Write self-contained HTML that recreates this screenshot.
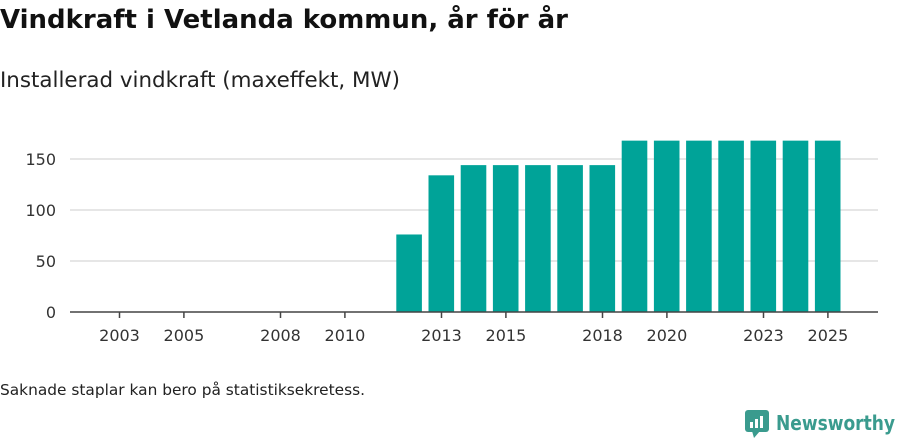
<!DOCTYPE html>
<html><head><meta charset="utf-8"><style>
body{margin:0;width:900px;height:439px;background:#fff;font-family:"Liberation Sans","DejaVu Sans",sans-serif;overflow:hidden;position:relative}
</style></head><body>
<svg width="900" height="439" style="position:absolute;left:0;top:0">
<text x="0" y="28" font-size="26" font-weight="bold" fill="#111" font-family="DejaVu Sans, sans-serif" textLength="568" lengthAdjust="spacingAndGlyphs">Vindkraft i Vetlanda kommun, år för år</text>
<text x="0" y="87" font-size="21" fill="#222" font-family="DejaVu Sans, sans-serif" textLength="400" lengthAdjust="spacingAndGlyphs">Installerad vindkraft (maxeffekt, MW)</text>
<g id="grid"></g><g id="bars"></g><g id="axis"></g>
<text x="0" y="395" font-size="15" fill="#222" font-family="DejaVu Sans, sans-serif" textLength="365" lengthAdjust="spacingAndGlyphs">Saknade staplar kan bero på statistiksekretess.</text>
<g>
<rect x="745" y="410" width="24" height="22" rx="3" fill="#3a9b8e"/>
<polygon points="752,431 760,431 754,438" fill="#3a9b8e"/>
<rect x="750" y="422" width="3" height="6" fill="#fff"/><rect x="755" y="419" width="3" height="9" fill="#fff"/><rect x="760" y="416" width="3" height="12" fill="#fff"/>
<text x="776" y="430" font-size="20" font-weight="bold" fill="#3a9b8e" font-family="DejaVu Sans, sans-serif" textLength="119" lengthAdjust="spacingAndGlyphs">Newsworthy</text>
</g>
</svg>
<script>
const years=[2012,2013,2014,2015,2016,2017,2018,2019,2020,2021,2022,2023,2024,2025];
const values=[76,134,144,144,144,144,144,168,168,168,168,168,168,168];
const yTicks=[0,50,100,150];
const xTicks=[2003,2005,2008,2010,2013,2015,2018,2020,2023,2025];
const NS="http://www.w3.org/2000/svg";
const x=y=>119.5+(y-2003)*32.2;
const yS=v=>312-v*1.02;
function mk(t,a,p){const e=document.createElementNS(NS,t);for(const k in a)e.setAttribute(k,a[k]);p.appendChild(e);return e;}
const grid=document.getElementById('grid'),bars=document.getElementById('bars'),axis=document.getElementById('axis');
yTicks.forEach(v=>{
 if(v>0){const l=mk('line',{x1:70,x2:878,y1:yS(v),y2:yS(v),stroke:'#ddd','stroke-width':1.5},grid);
 
 }
 const t=mk('text',{x:56,y:yS(v)+6,'text-anchor':'end','font-size':16,fill:'#333','font-family':'DejaVu Sans, sans-serif'},axis);t.textContent=v;
 
 
});
years.forEach((yr,i)=>{
 const r=mk('rect',{x:x(yr)-13,y:yS(values[i]),width:25.6,height:312-yS(values[i]),fill:'#00a398'},bars);
 
 
});
const ax=mk('line',{x1:70,x2:878,y1:312,y2:312,stroke:'#444','stroke-width':1.5},axis);


xTicks.forEach(yr=>{
 mk('line',{x1:x(yr),x2:x(yr),y1:312,y2:318,stroke:'#444','stroke-width':1.5},axis);
 const t=mk('text',{x:x(yr),y:341,'text-anchor':'middle','font-size':16,fill:'#333','font-family':'DejaVu Sans, sans-serif'},axis);t.textContent=yr;
 
 
});
</script>
</body></html>
